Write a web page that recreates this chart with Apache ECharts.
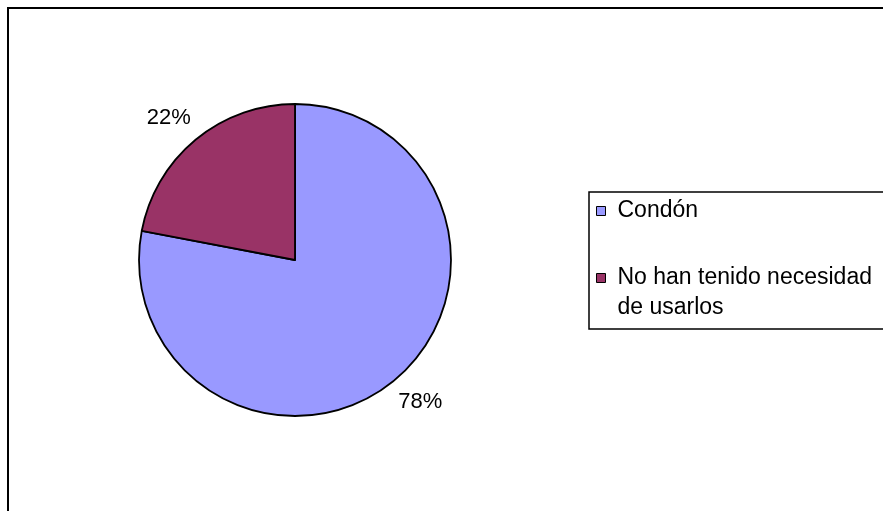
<!DOCTYPE html>
<html>
<head>
<meta charset="utf-8">
<script src="https://cdn.jsdelivr.net/npm/echarts@6/dist/echarts.min.js"></script>
<style>
  html, body { margin: 0; padding: 0; background: #fff; }
  #chart { width: 883px; height: 511px; }
</style>
</head>
<body>
<div id="chart"></div>
<script>
// data
const categories = ['Condón', 'No han tenido necesidad de usarlos'];
const legendLabels = ['Condón', '\nNo han tenido necesidad\nde usarlos'];
const values = [78, 22];
const colors = ['#9999FF', '#993366'];

const chart = echarts.init(document.getElementById('chart'));

const option = {
  animation: false,
  backgroundColor: '#fff',
  textStyle: { fontFamily: 'Liberation Sans, Arial, sans-serif' },
  graphic: [
    {
      type: 'rect',
      shape: { x: 8, y: 8, width: 900, height: 600 },
      style: { fill: 'none', stroke: '#000', lineWidth: 2 },
      silent: true
    }
  ],
  legend: {
    orient: 'vertical',
    left: 589,
    top: 192,
    padding: [4, 40, 6, 7],
    itemGap: 7,
    itemWidth: 9,
    itemHeight: 9,
    icon: 'rect',
    borderColor: '#000',
    borderWidth: 1.5,
    itemStyle: { borderColor: '#000', borderWidth: 1 },
    textStyle: {
      fontSize: 23,
      lineHeight: 30,
      color: '#000',
      padding: [0, 0, 0, 7],
      fontFamily: 'Liberation Sans, Arial, sans-serif'
    },
    formatter: function (name) {
      return legendLabels[categories.indexOf(name)];
    },
    data: categories
  },
  series: [
    {
      type: 'pie',
      center: [295, 260],
      radius: 156,
      startAngle: 90,
      clockwise: true,
      color: colors,
      itemStyle: { borderColor: '#000', borderWidth: 1.8 },
      label: {
        show: true,
        position: 'outside',
        formatter: '{c}%',
        fontSize: 22,
        color: '#000',
        fontFamily: 'Liberation Sans, Arial, sans-serif'
      },
      labelLine: { show: false, length: 28, length2: 0 },
      labelLayout: function (params) {
        return { align: 'center', dx: params.align === 'left' ? 3 : -4 };
      },
      emphasis: { disabled: true },
      data: categories.map(function (name, i) {
        return { name: name, value: values[i] };
      })
    }
  ]
};

chart.setOption(option);
</script>
</body>
</html>
